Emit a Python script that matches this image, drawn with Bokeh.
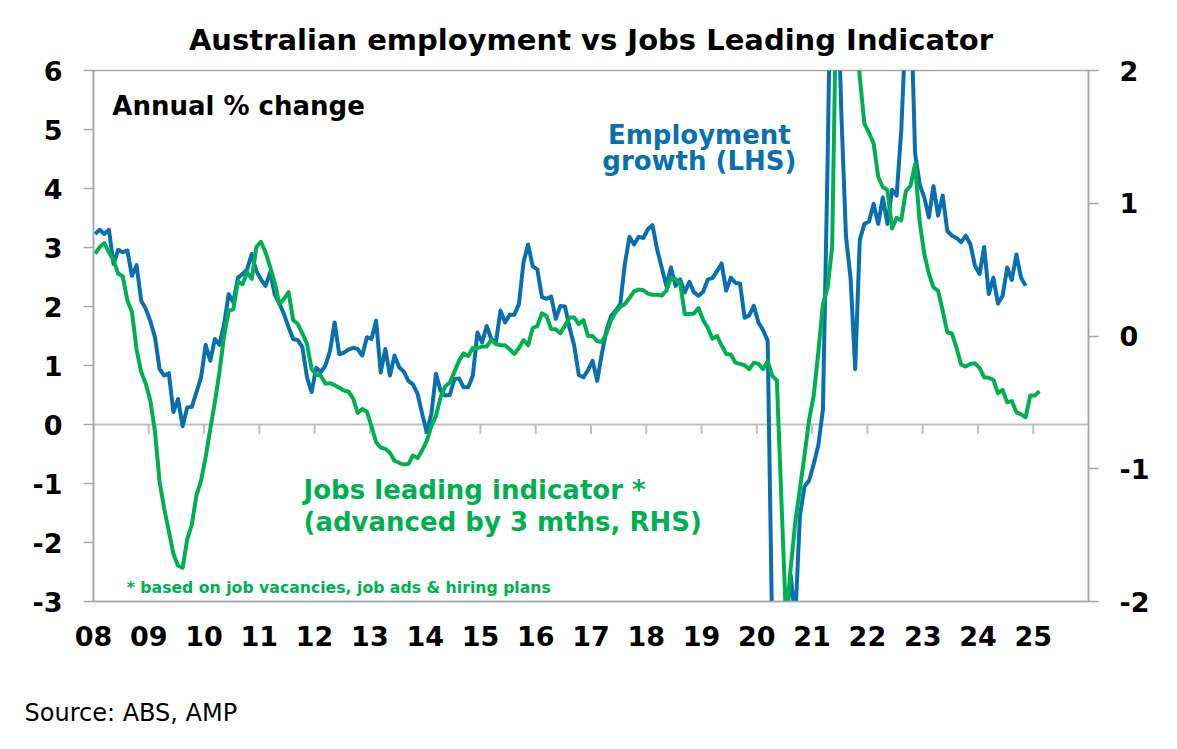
from bokeh.plotting import figure
from bokeh.models import Range1d, LinearAxis, FixedTicker, Label, Span, Title
from bokeh.embed import file_html
from bokeh.resources import INLINE

# ---------------- data ----------------
start_year = 2008  # first month: Jan 2008, monthly observations

# Employment growth, annual % change (LHS), Jan 2008 .. Nov 2024
emp_growth = [
    3.23, 3.30, 3.23, 3.30, 2.72, 2.96, 2.92, 2.95, 2.52, 2.70, 2.10, 1.96,
    1.75, 1.48, 0.94, 0.83, 0.87, 0.21, 0.43, -0.03, 0.29, 0.30, 0.55, 0.80,
    1.35, 1.08, 1.45, 1.35, 1.70, 2.21, 2.07, 2.49, 2.55, 2.63, 2.89, 2.60,
    2.46, 2.35, 2.58, 2.20, 2.05, 1.87, 1.65, 1.45, 1.43, 1.31, 0.80, 0.55,
    0.96, 0.89, 1.00, 1.25, 1.73, 1.19, 1.22, 1.27, 1.30, 1.28, 1.17, 1.48,
    1.45, 1.76, 0.88, 1.28, 0.83, 1.17, 0.97, 0.90, 0.74, 0.68, 0.52, 0.18,
    -0.13, 0.18, 0.86, 0.57, 0.49, 0.50, 0.77, 0.78, 0.63, 0.63, 0.83, 1.56,
    1.39, 1.67, 1.45, 1.39, 1.93, 1.73, 1.86, 1.86, 2.04, 2.75, 3.05, 2.68,
    2.63, 2.16, 2.13, 2.17, 1.79, 2.01, 2.00, 1.64, 1.34, 0.84, 0.80, 0.92,
    1.08, 0.74, 1.20, 1.59, 1.84, 1.93, 2.04, 2.72, 3.18, 3.05, 3.18, 3.16,
    3.31, 3.38, 2.97, 2.66, 2.35, 2.66, 2.35, 2.46, 2.24, 2.42, 2.24, 2.18,
    2.25, 2.46, 2.48, 2.60, 2.73, 2.27, 2.49, 2.40, 2.39, 1.81, 1.85, 2.01,
    1.73, 1.60, 1.42, -3.60, -4.80, -4.50, -3.40, -2.56, -3.30, -1.55, -1.05, -0.95,
    -0.67, -0.35, 0.25, 4.40, 9.30, 8.00, 5.27, 3.19, 2.48, 0.94, 3.13, 3.40,
    3.44, 3.74, 3.40, 3.85, 3.40, 3.98, 3.88, 4.98, 6.80, 7.40, 4.60, 4.07,
    3.85, 3.51, 4.04, 3.54, 3.88, 3.28, 3.20, 3.16, 3.09, 3.20, 3.06, 2.69,
    2.55, 3.01, 2.21, 2.49, 2.05, 2.18, 2.66, 2.45, 2.88, 2.49, 2.35,
]

# Jobs leading indicator (advanced by 3 months, RHS), Jan 2008 .. Feb 2025
jobs_leading = [
    0.62, 0.67, 0.70, 0.63, 0.57, 0.47, 0.45, 0.27, 0.18, -0.10, -0.27, -0.36,
    -0.49, -0.72, -1.10, -1.30, -1.47, -1.64, -1.73, -1.745, -1.53, -1.42, -1.20, -1.09,
    -0.91, -0.70, -0.50, -0.27, 0.00, 0.19, 0.20, 0.41, 0.39, 0.48, 0.43, 0.67,
    0.71, 0.63, 0.52, 0.40, 0.24, 0.28, 0.33, 0.12, 0.09, 0.02, -0.06, -0.25,
    -0.29, -0.30, -0.36, -0.355, -0.37, -0.39, -0.41, -0.42, -0.47, -0.58, -0.55, -0.57,
    -0.68, -0.80, -0.84, -0.85, -0.88, -0.94, -0.955, -0.968, -0.965, -0.90, -0.92, -0.86,
    -0.79, -0.68, -0.60, -0.46, -0.38, -0.35, -0.27, -0.186, -0.131, -0.15, -0.09, -0.09,
    -0.08, -0.08, -0.03, -0.06, -0.07, -0.07, -0.10, -0.135, -0.09, -0.03, -0.07, 0.06,
    0.075, 0.17, 0.15, 0.053, 0.05, 0.02, 0.08, 0.14, 0.14, 0.09, 0.12, 0.00,
    0.00, -0.04, -0.045, 0.02, 0.12, 0.178, 0.22, 0.24, 0.286, 0.336, 0.35, 0.345,
    0.32, 0.31, 0.31, 0.305, 0.34, 0.437, 0.43, 0.40, 0.165, 0.165, 0.17, 0.21,
    0.12, 0.06, -0.02, 0.00, -0.07, -0.136, -0.14, -0.20, -0.21, -0.22, -0.25, -0.20,
    -0.21, -0.25, -0.19, -0.30, -0.335, -1.25, -2.15, -1.75, -1.40, -1.15, -0.90, -0.63,
    -0.45, -0.12, 0.24, 0.36, 0.67, 2.80, 3.00, 3.00, 2.80, 2.40, 1.95, 1.60,
    1.53, 1.45, 1.20, 1.12, 1.10, 0.81, 0.89, 0.87, 1.09, 1.13, 1.294, 0.86,
    0.62, 0.47, 0.366, 0.34, 0.19, 0.027, 0.02, -0.09, -0.216, -0.23, -0.21, -0.206,
    -0.24, -0.31, -0.315, -0.33, -0.43, -0.405, -0.50, -0.49, -0.575, -0.59, -0.612, -0.449,
    -0.449, -0.416,
]

year_ticks = list(range(2008, 2026))
year_labels = ["08", "09", "10", "11", "12", "13", "14", "15", "16",
               "17", "18", "19", "20", "21", "22", "23", "24", "25"]
left_ticks = [-3, -2, -1, 0, 1, 2, 3, 4, 5, 6]
right_ticks = [-2, -1, 0, 1, 2]

# ---------------- styling ----------------
BLUE = "#0870AE"
GREEN = "#00B050"
GREY = "#A6A6A6"
FONT = "DejaVu Sans"

month_offset = 0.35  # points sit a little after the start of each month
emp_x = [start_year + (i + month_offset) / 12 for i in range(len(emp_growth))]
jli_x = [start_year + (i + month_offset) / 12 for i in range(len(jobs_leading))]

p = figure(width=1161, height=733,
           x_range=Range1d(2008, 2026), y_range=Range1d(-3, 6),
           output_backend="svg", toolbar_location=None,
           min_border_left=93, min_border_right=73,
           min_border_top=70, min_border_bottom=132)
p.extra_y_ranges = {"rhs": Range1d(-2, 2)}
p.grid.visible = False
p.outline_line_color = GREY
p.outline_line_width = 1.5
p.background_fill_color = "white"
p.border_fill_color = "white"

# title and source line
p.add_layout(Title(text="Australian employment vs Jobs Leading Indicator",
                   align="center", text_font=FONT, text_font_style="bold",
                   text_font_size="29px", text_color="black", standoff=28),
             "above")
p.add_layout(Title(text="Source: ABS, AMP", align="left", offset=-69,
                   text_font=FONT, text_font_style="normal",
                   text_font_size="24px", text_color="black", standoff=6),
             "below")

# x axis (labels at the bottom, ticks drawn on the zero line)
xa = p.xaxis[0]
xa.ticker = FixedTicker(ticks=year_ticks)
xa.major_label_overrides = {y: lab for y, lab in zip(year_ticks, year_labels)}
xa.major_tick_out = 0
xa.major_tick_in = 0
xa.minor_tick_out = 0
xa.minor_tick_in = 0
xa.axis_line_color = GREY
xa.axis_line_width = 1.5
xa.major_label_standoff = 24
xa.major_label_text_font = FONT
xa.major_label_text_font_style = "bold"
xa.major_label_text_font_size = "27px"
xa.major_label_text_color = "black"
# blank axis label: only reserves the gap between tick labels and source line
xa.axis_label = "\u00a0"
xa.axis_label_text_font_size = "25px"
xa.axis_label_standoff = 14


def style_y(ax, ticks):
    ax.ticker = FixedTicker(ticks=ticks)
    ax.major_label_overrides = {t: str(t) for t in ticks}
    ax.major_tick_out = 10
    ax.major_tick_in = 0
    ax.minor_tick_out = 0
    ax.minor_tick_in = 0
    ax.axis_line_color = GREY
    ax.axis_line_width = 1.5
    ax.major_tick_line_color = GREY
    ax.major_tick_line_width = 1.5
    ax.major_label_standoff = 21
    ax.major_label_text_font = FONT
    ax.major_label_text_font_style = "bold"
    ax.major_label_text_font_size = "27px"
    ax.major_label_text_color = "black"


style_y(p.yaxis[0], left_ticks)
ra = LinearAxis(y_range_name="rhs")
style_y(ra, right_ticks)
p.add_layout(ra, "right")

# zero line with year ticks
p.add_layout(Span(location=0, dimension="width", line_color="#BFBFBF",
                  line_width=2, level="underlay"))
p.segment(x0=year_ticks, y0=[0] * len(year_ticks), x1=year_ticks,
          y1=[-0.16] * len(year_ticks), line_color="#BFBFBF", line_width=2,
          level="underlay")

# series
p.line(emp_x, emp_growth, line_color=BLUE, line_width=4, line_join="round")
p.line(jli_x, jobs_leading, y_range_name="rhs", line_color=GREEN,
       line_width=4, line_join="round")


# texts inside the plot area
def add_label(txt, x, y, size, color="black", align="left"):
    p.add_layout(Label(x=x, y=y, text=txt, text_font=FONT,
                       text_font_size=size, text_font_style="bold",
                       text_color=color, text_align=align,
                       text_baseline="alphabetic"))


add_label("Annual % change", 2008.34, 5.40, "26px")
add_label("Employment", 2018.96, 4.91, "26px", color=BLUE, align="center")
add_label("growth (LHS)", 2018.96, 4.46, "26px", color=BLUE, align="center")
add_label("Jobs leading indicator *", 2011.80, -1.11, "26px", color=GREEN)
add_label("(advanced by 3 mths, RHS)", 2011.80, -1.65, "26px", color=GREEN)
add_label("* based on job vacancies, job ads & hiring plans", 2008.60, -2.76,
          "15.7px", color=GREEN)

open("out.html", "w").write(file_html(p, INLINE))
